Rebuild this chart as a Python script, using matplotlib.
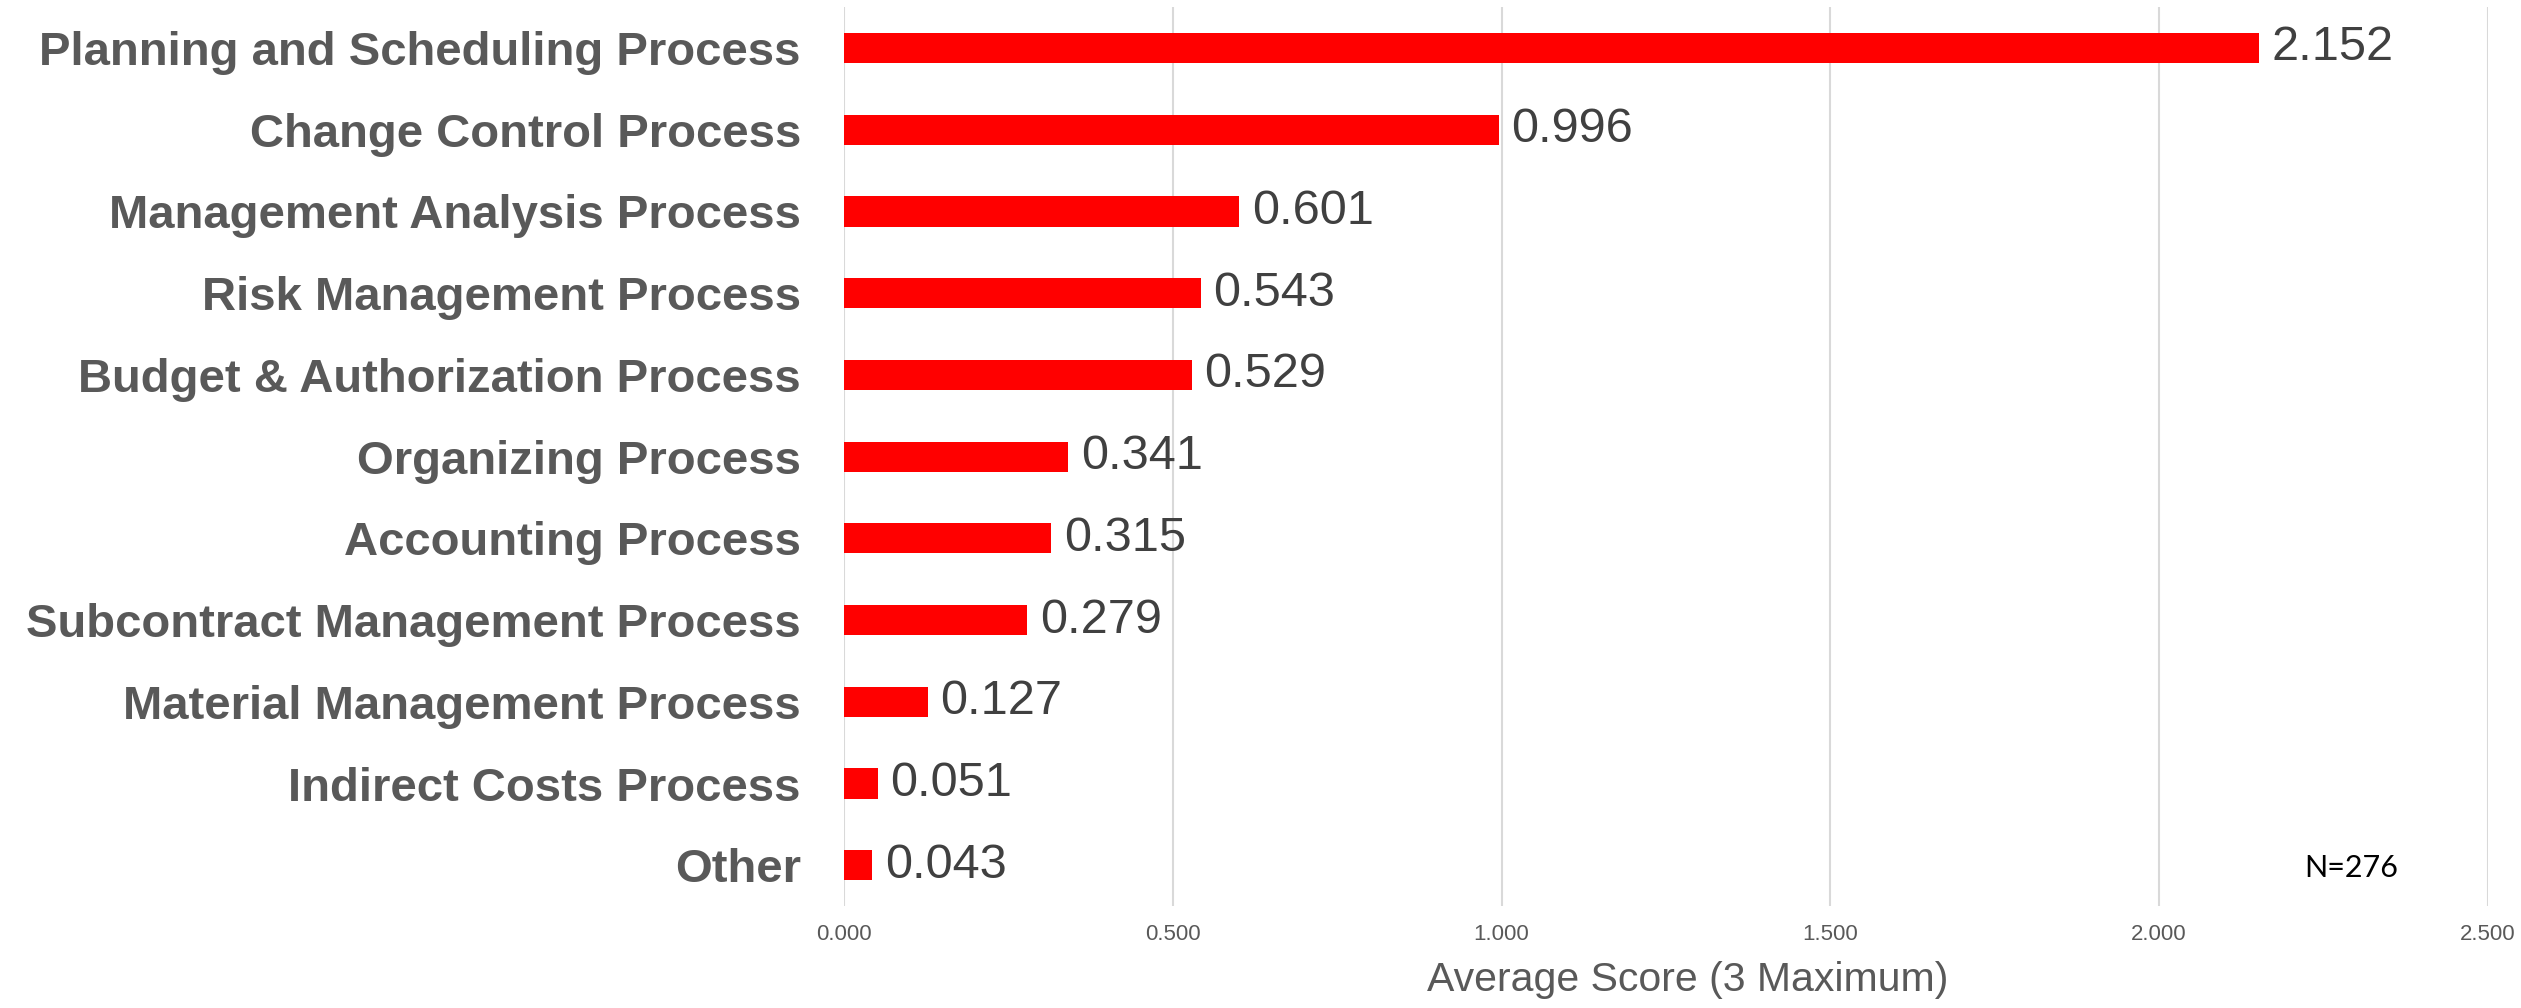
import matplotlib
matplotlib.use("Agg")
from matplotlib import pyplot as plt

categories = [
    "Planning and Scheduling Process",
    "Change Control Process",
    "Management Analysis Process",
    "Risk Management Process",
    "Budget & Authorization Process",
    "Organizing Process",
    "Accounting Process",
    "Subcontract Management Process",
    "Material Management Process",
    "Indirect Costs Process",
    "Other",
]
scores = [2.152, 0.996, 0.601, 0.543, 0.529, 0.341, 0.315, 0.279, 0.127, 0.051, 0.043]
x_ticks = [0.0, 0.5, 1.0, 1.5, 2.0, 2.5]
x_label = "Average Score (3 Maximum)"
note = "N=276"

# no narrow font here, so the plain Liberation Sans at a smaller size
narrow = ["Liberation Sans Narrow", "Liberation Sans", "DejaVu Sans"]

fig = plt.figure(figsize=(25.21, 10.08), dpi=100)
ax = fig.add_axes([0.3348, 0.101, 0.6521, 0.892])

pos = list(range(len(categories)))
bars = ax.barh(pos, scores, height=0.37, color="#ff0000", zorder=3)
ax.set_ylim(len(categories) - 0.5, -0.5)
ax.set_xlim(0, 2.5)

ax.bar_label(bars, labels=[f"{v:.3f}" for v in scores], padding=9,
             fontsize=35, color="#404040", family=narrow)

ax.set_yticks(pos)
ax.set_yticklabels(categories, fontsize=34, fontweight="bold",
                   color="#595959", family=narrow)
ax.set_xticks(x_ticks)
ax.set_xticklabels([f"{t:.3f}" for t in x_ticks], fontsize=16,
                   color="#595959", family=narrow)
ax.tick_params(axis="y", length=0, pad=31)
ax.tick_params(axis="x", length=0, pad=13)
ax.set_xlabel(x_label, fontsize=29.5, color="#595959", family=narrow)
ax.xaxis.set_label_coords(0.513, -0.061)

ax.grid(axis="x", color="#d9d9d9", linewidth=1.5, zorder=0)
for s in ax.spines.values():
    s.set_visible(False)

ax.text(0.917, 0.043, note, transform=ax.transAxes, ha="center", va="center",
        fontsize=22, color="black", family=["Lato", "DejaVu Sans"])

fig.savefig("out.png", dpi=100)
